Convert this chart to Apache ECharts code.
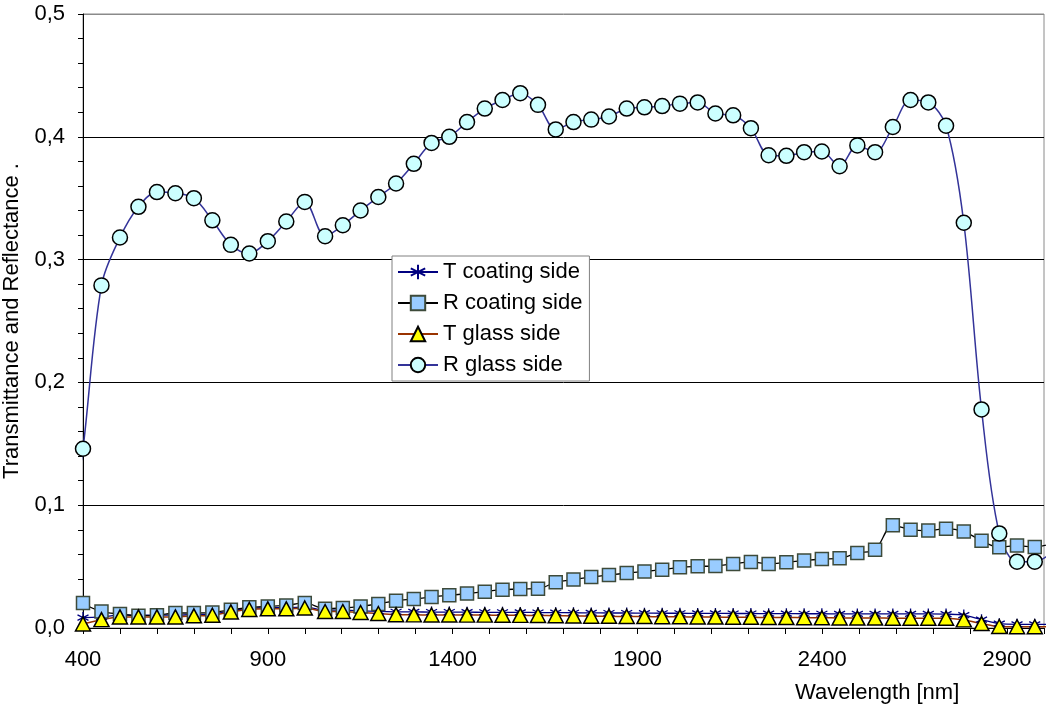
<!DOCTYPE html>
<html>
<head>
<meta charset="utf-8">
<script src="https://cdn.jsdelivr.net/npm/echarts@6/dist/echarts.min.js"></script>
<style>
html,body{margin:0;padding:0;background:#fff;}
#chart{width:1047px;height:708px;}
</style>
</head>
<body>
<div id="chart"></div>
<script>
// Wavelengths [nm]; first and last points lie just outside the axis range (line only, no marker)
const wavelength = [380, 400, 450, 500, 550, 600, 650, 700, 750, 800, 850, 900, 950, 1000,
  1055, 1103, 1151, 1199, 1247, 1295, 1343, 1391, 1439, 1487, 1535, 1583, 1631, 1679, 1727,
  1775, 1823, 1871, 1919, 1967, 2015, 2063, 2111, 2159, 2207, 2255, 2303, 2351, 2399, 2447,
  2495, 2543, 2591, 2639, 2687, 2735, 2783, 2831, 2879, 2927, 2975, 3023];

const tCoating = [0.010, 0.0085, 0.009, 0.0105, 0.0105, 0.0105, 0.0105, 0.011, 0.0115, 0.014, 0.016,
  0.0165, 0.0165, 0.017, 0.0145, 0.0145, 0.014, 0.0135, 0.0132, 0.0131, 0.013, 0.013, 0.0129,
  0.0128, 0.0128, 0.0127, 0.0126, 0.0125, 0.0124, 0.0123, 0.0122, 0.0122, 0.0121, 0.012, 0.012,
  0.0119, 0.0119, 0.0118, 0.0118, 0.0117, 0.0117, 0.0116, 0.0116, 0.0115, 0.0115, 0.0115, 0.0115,
  0.0115, 0.0115, 0.0113, 0.0105, 0.0068, 0.0035, 0.003, 0.003, 0.003];

const rCoating = [0.028, 0.0204, 0.0135, 0.0114, 0.0100, 0.0103, 0.0122, 0.0122, 0.0127, 0.0149, 0.0168,
  0.0176, 0.0184, 0.0204, 0.0157, 0.0163, 0.0176, 0.0196, 0.0222, 0.0236, 0.0253, 0.0266, 0.0280,
  0.0296, 0.0312, 0.0318, 0.0320, 0.0372, 0.0394, 0.0416, 0.0432, 0.0448, 0.0461, 0.0475, 0.0494,
  0.0502, 0.0505, 0.0522, 0.0538, 0.0522, 0.0535, 0.0549, 0.0562, 0.0567, 0.0611, 0.0638, 0.0836,
  0.0801, 0.0793, 0.0809, 0.0785, 0.0711, 0.0657, 0.0671, 0.0660, 0.069];

const tGlass = [0.001, 0.0033, 0.0068, 0.009, 0.009, 0.009, 0.009, 0.0099, 0.0104, 0.0131, 0.0151,
  0.0156, 0.0156, 0.0163, 0.0134, 0.0134, 0.0126, 0.0118, 0.0108, 0.0107, 0.0106, 0.0106, 0.0105,
  0.0105, 0.0104, 0.0103, 0.0102, 0.0100, 0.0098, 0.0096, 0.0095, 0.0094, 0.0093, 0.0092, 0.0091,
  0.0090, 0.0089, 0.0088, 0.0087, 0.0086, 0.0085, 0.0084, 0.0083, 0.0082, 0.0081, 0.0081, 0.0080,
  0.0080, 0.0080, 0.0080, 0.0066, 0.0036, 0.0012, 0.001, 0.001, 0.001];

const rGlass = [0.11, 0.146, 0.279, 0.318, 0.343, 0.355, 0.354, 0.350, 0.332, 0.312, 0.305, 0.315,
  0.331, 0.347, 0.319, 0.328, 0.340, 0.351, 0.362, 0.378, 0.395, 0.400, 0.412, 0.423, 0.430,
  0.4355, 0.426, 0.406, 0.412, 0.414, 0.4165, 0.423, 0.424, 0.425, 0.427, 0.428, 0.419, 0.4175,
  0.407, 0.385, 0.3845, 0.3875, 0.388, 0.376, 0.393, 0.3875, 0.408, 0.430, 0.428, 0.409, 0.330,
  0.178, 0.077, 0.054, 0.054, 0.062];

const seriesNames = ['T coating side', 'R coating side', 'T glass side', 'R glass side'];
const xLabelStep = 500;

const FONT = 'Liberation Sans, Arial, sans-serif';

function toData(vals) {
  return wavelength.map(function (w, i) {
    const item = { value: [w, vals[i]] };
    if (w < 400 || w > 3000) item.symbol = 'none';
    return item;
  });
}

const starPath = 'path://M10,0L10,20M1.34,5L18.66,15M1.34,15L18.66,5';

const chart = echarts.init(document.getElementById('chart'), null, { renderer: 'canvas' });

chart.setOption({
  animation: false,
  backgroundColor: '#ffffff',
  textStyle: { fontFamily: FONT },
  title: {
    text: 'Wavelength [nm]',
    left: 795,
    top: 682,
    padding: 0,
    textStyle: { fontSize: 22, fontWeight: 'normal', color: '#000', fontFamily: FONT }
  },
  legend: {
    data: seriesNames,
    orient: 'vertical',
    left: 392,
    top: 256,
    align: 'left',
    itemWidth: 40,
    itemHeight: 18,
    itemGap: 9,
    padding: [5, 7, 5, 5],
    borderColor: '#808080',
    borderWidth: 1,
    backgroundColor: '#ffffff',
    textStyle: { fontSize: 22, color: '#000', lineHeight: 22, fontFamily: FONT }
  },
  grid: {
    left: 83, right: 3, top: 14, bottom: 80,
    containLabel: false,
    outerBoundsMode: 'none',
    show: true, borderColor: '#8a8a8a', borderWidth: 1, backgroundColor: 'transparent'
  },
  xAxis: {
    type: 'value',
    min: 400,
    max: 3000,
    interval: 100,
    axisLine: { show: true, lineStyle: { color: '#000', width: 1 } },
    axisTick: { show: true, length: 6, lineStyle: { color: '#000' } },
    splitLine: { show: false },
    axisLabel: {
      fontSize: 22, color: '#000', margin: 21, fontFamily: FONT,
      formatter: function (v) { return ((v - 400) % xLabelStep === 0) ? String(v) : ''; }
    }
  },
  yAxis: {
    type: 'value',
    min: 0,
    max: 0.5,
    interval: 0.1,
    name: 'Transmittance and Reflectance .',
    nameLocation: 'middle',
    nameGap: 60,
    nameTextStyle: { fontSize: 22, color: '#000', fontFamily: FONT },
    axisLine: { show: true, lineStyle: { color: '#000', width: 1 } },
    axisTick: { show: true, length: 5, lineStyle: { color: '#000' } },
    minorTick: { show: true, splitNumber: 5, length: 5, lineStyle: { color: '#000' } },
    splitLine: { show: true, lineStyle: { color: ['#000', '#000', '#000', '#000', '#000', '#8a8a8a'], width: 1 } },
    axisLabel: {
      fontSize: 22, color: '#000', margin: 18, fontFamily: FONT,
      formatter: function (v) { return v.toFixed(1).replace('.', ','); }
    }
  },
  series: [
    {
      name: seriesNames[0], type: 'line', smooth: 0.33, clip: false,
      data: toData(tCoating),
      symbol: starPath, symbolSize: 11,
      itemStyle: { color: 'rgba(0,0,0,0)', borderColor: '#000080', borderWidth: 1.3 },
      lineStyle: { color: '#000080', width: 1.3 }
    },
    {
      name: seriesNames[1], type: 'line', smooth: 0.33, clip: false,
      data: toData(rCoating),
      symbol: 'rect', symbolSize: 13,
      itemStyle: { color: '#99CCFF', borderColor: '#3d4a3a', borderWidth: 1.5 },
      lineStyle: { color: '#000', width: 1.3 }
    },
    {
      name: seriesNames[2], type: 'line', smooth: 0.33, clip: false,
      data: toData(tGlass),
      symbol: 'triangle', symbolSize: [15, 14],
      itemStyle: { color: '#FFFF00', borderColor: '#000', borderWidth: 1.5 },
      lineStyle: { color: '#993300', width: 1.5 }
    },
    {
      name: seriesNames[3], type: 'line', smooth: 0.33, clip: false,
      data: toData(rGlass),
      symbol: 'circle', symbolSize: 15,
      itemStyle: { color: '#CCFFFF', borderColor: '#000', borderWidth: 1.5 },
      lineStyle: { color: '#333399', width: 1.5 }
    }
  ]
});
</script>
</body>
</html>
